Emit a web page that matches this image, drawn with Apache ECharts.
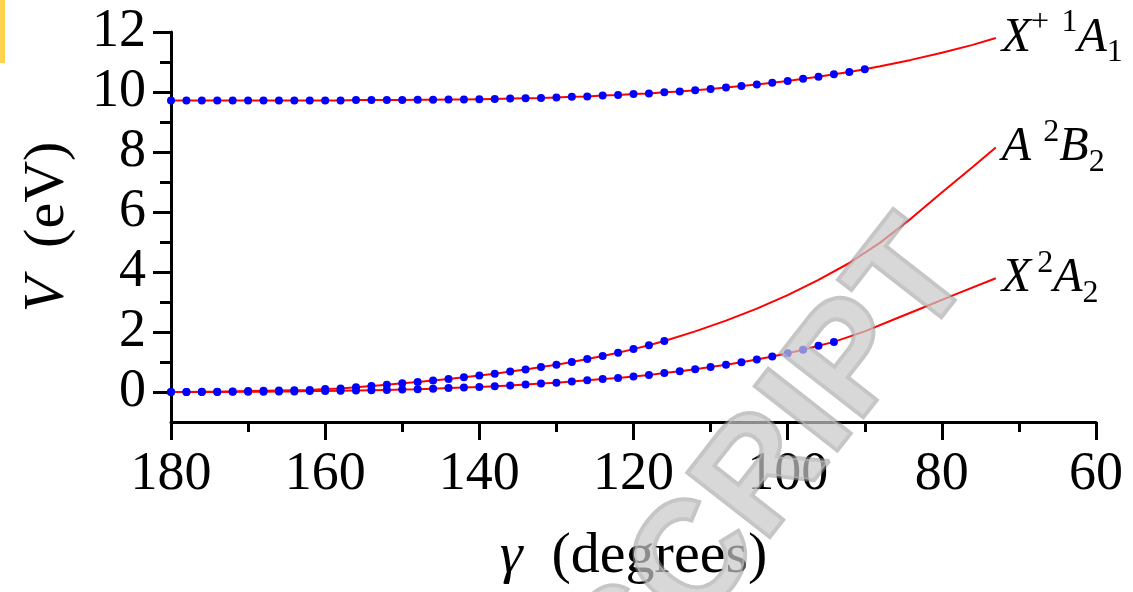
<!DOCTYPE html>
<html>
<head>
<meta charset="utf-8">
<script src="https://cdn.jsdelivr.net/npm/echarts@6/dist/echarts.min.js"></script>
<style>
html, body { margin: 0; padding: 0; background: #fff; }
#chart { width: 1133px; height: 592px; }
</style>
</head>
<body>
<div id="chart"></div>
<script>
// bond angle gamma (degrees) of the computed points, every 2 degrees
var gammaDots = [180, 178, 176, 174, 172, 170, 168, 166, 164, 162,
    160, 158, 156, 154, 152, 150, 148, 146, 144, 142,
    140, 138, 136, 134, 132, 130, 128, 126, 124, 122,
    120, 118, 116, 114, 112, 110, 108, 106, 104, 102,
    100, 98, 96, 94, 92, 90];

// X+ 1A1 (eV)
var xPlusDots = [9.72, 9.72, 9.72, 9.72, 9.72, 9.72, 9.72, 9.72, 9.72, 9.72,
    9.72, 9.72, 9.73, 9.73, 9.73, 9.73, 9.74, 9.74, 9.75, 9.75,
    9.76, 9.77, 9.78, 9.79, 9.80, 9.82, 9.84, 9.85, 9.88, 9.90,
    9.93, 9.95, 9.99, 10.02, 10.06, 10.10, 10.15, 10.20, 10.25, 10.31,
    10.37, 10.44, 10.51, 10.59, 10.67, 10.76];
// A 2B2
var aDots = [0.00, 0.00, 0.01, 0.01, 0.02, 0.03, 0.04, 0.05, 0.06, 0.07,
    0.10, 0.12, 0.16, 0.20, 0.24, 0.29, 0.33, 0.38, 0.43, 0.49,
    0.55, 0.61, 0.68, 0.75, 0.83, 0.91, 1.00, 1.10, 1.20, 1.31,
    1.43, 1.56, 1.70];
// X 2A2
var xDots = [0.00, 0.00, 0.00, 0.00, 0.01, 0.01, 0.01, 0.02, 0.02, 0.03,
    0.03, 0.04, 0.05, 0.06, 0.07, 0.08, 0.09, 0.11, 0.13, 0.15,
    0.17, 0.19, 0.22, 0.25, 0.28, 0.31, 0.35, 0.39, 0.43, 0.47,
    0.52, 0.57, 0.63, 0.69, 0.76, 0.83, 0.91, 0.99, 1.08, 1.18,
    1.29, 1.41, 1.54, 1.67];

// fitted curves go on past the last point
var xPlusExtG = [88, 84, 80, 76, 73];
var xPlusExtV = [10.86, 11.07, 11.31, 11.57, 11.80];
var aExtG = [112, 108, 104, 100, 96, 92, 88, 84, 80, 76, 73];
var aExtV = [2.02, 2.38, 2.78, 3.23, 3.74, 4.30, 4.98, 5.78, 6.65, 7.50, 8.15];
var xExtG = [90, 86, 82, 78, 73];
var xExtV = [2.02, 2.44, 2.86, 3.28, 3.79];

var yMajor = [0, 2, 4, 6, 8, 10, 12];
var yMinor = [1, 3, 5, 7, 9, 11];

var serif = '"Liberation Serif", "Times New Roman", serif';

function pairs(g, v) {
    return v.map(function (y, i) { return [g[i], y]; });
}

var richLabel = {
    i: { fontFamily: serif, fontStyle: 'italic', fontSize: 48, color: '#000', lineHeight: 62 },
    sup: { fontFamily: serif, fontSize: 32, color: '#000', verticalAlign: 'top', lineHeight: 62 },
    sub: { fontFamily: serif, fontSize: 32, color: '#000', verticalAlign: 'bottom', lineHeight: 62 },
    sp: { fontSize: 22, lineHeight: 62 }
};

function curve(name, g, v, eg, ev, text) {
    return {
        name: name,
        type: 'line',
        data: pairs(g, v).concat(pairs(eg, ev)),
        showSymbol: false,
        lineStyle: { color: '#ff0000', width: 2 },
        z: 2,
        animation: false,
        endLabel: {
            show: true,
            distance: 0,
            align: 'left',
            verticalAlign: 'middle',
            offset: [6, 0],
            formatter: text,
            rich: richLabel
        }
    };
}

function dots(name, g, v) {
    return {
        name: name,
        type: 'scatter',
        data: pairs(g, v),
        symbolSize: 8,
        itemStyle: { color: '#0000ff', opacity: 1 },
        z: 3,
        animation: false
    };
}

var chart = echarts.init(document.getElementById('chart'), null, { renderer: 'canvas' });

var option = {
    backgroundColor: '#fff',
    animation: false,
    grid: { left: 171, right: 37, top: 32, bottom: 170, containLabel: false },
    xAxis: {
        type: 'value',
        inverse: true,
        min: 60,
        max: 180,
        interval: 20,
        name: '{g|γ}  (degrees)',
        nameLocation: 'middle',
        nameGap: 106,
        nameTextStyle: {
            fontFamily: serif, fontSize: 58, color: '#000',
            rich: { g: { fontFamily: serif, fontStyle: 'italic', fontSize: 58, color: '#000' } }
        },
        axisLine: { onZero: false, lineStyle: { color: '#000', width: 3 } },
        axisTick: { length: 18, lineStyle: { color: '#000', width: 3 } },
        minorTick: { show: true, splitNumber: 2, length: 10, lineStyle: { color: '#000', width: 3 } },
        axisLabel: { fontFamily: serif, fontSize: 54, color: '#000', margin: 26 },
        splitLine: { show: false }
    },
    yAxis: [{
        type: 'value',
        min: -1,
        max: 12,
        interval: 1,
        name: '{v|V}  (eV)',
        nameLocation: 'middle',
        nameGap: 94,
        nameTextStyle: {
            fontFamily: serif, fontSize: 58, color: '#000',
            rich: { v: { fontFamily: serif, fontStyle: 'italic', fontSize: 58, color: '#000' } }
        },
        axisLine: { show: true, onZero: false, lineStyle: { color: '#000', width: 3 } },
        axisTick: { customValues: yMajor, length: 18, lineStyle: { color: '#000', width: 3 } },
        axisLabel: { customValues: yMajor, fontFamily: serif, fontSize: 54, color: '#000', margin: 25 },
        splitLine: { show: false }
    }, {
        type: 'value',
        min: -1,
        max: 12,
        interval: 1,
        position: 'left',
        axisLine: { show: false },
        axisTick: { customValues: yMinor, length: 11, lineStyle: { color: '#000', width: 3 } },
        axisLabel: { show: false },
        splitLine: { show: false }
    }],
    series: [
        curve('X+ 1A1', gammaDots, xPlusDots, xPlusExtG, xPlusExtV,
            '{i|X}{sup|+}{sp|  }{sup|1}{i|A}{sub|1}'),
        curve('A 2B2', gammaDots, aDots, aExtG, aExtV,
            '{i|A}{sp|  }{sup|2}{i|B}{sub|2}'),
        curve('X 2A2', gammaDots, xDots, xExtG, xExtV,
            '{i|X}{sp| }{sup|2}{i|A}{sub|2}'),
        dots('X+ 1A1 pts', gammaDots, xPlusDots),
        dots('A 2B2 pts', gammaDots, aDots),
        dots('X 2A2 pts', gammaDots, xDots)
    ],
    graphic: [
        {
            type: 'rect',
            shape: { x: 0, y: 0, width: 5, height: 63 },
            style: { fill: '#ffd24f' },
            z: 10
        },
        {
            // journal watermark, tail end of "MANUSCRIPT"
            type: 'text',
            x: 772,
            y: 466,
            rotation: 52 * Math.PI / 180,
            style: {
                text: 'SCRIPT',
                fontSize: 152,
                fontWeight: 'bold',
                fontFamily: '"Liberation Sans", Arial, sans-serif',
                fill: 'rgba(200,200,200,0.7)',
                stroke: 'rgba(150,150,150,0.55)',
                lineWidth: 4,
                align: 'center',
                verticalAlign: 'middle',
                shadowColor: 'rgba(0,0,0,0.25)',
                shadowBlur: 6,
                shadowOffsetX: 3,
                shadowOffsetY: 3
            },
            z: 100
        }
    ]
};

chart.setOption(option);
</script>
</body>
</html>
